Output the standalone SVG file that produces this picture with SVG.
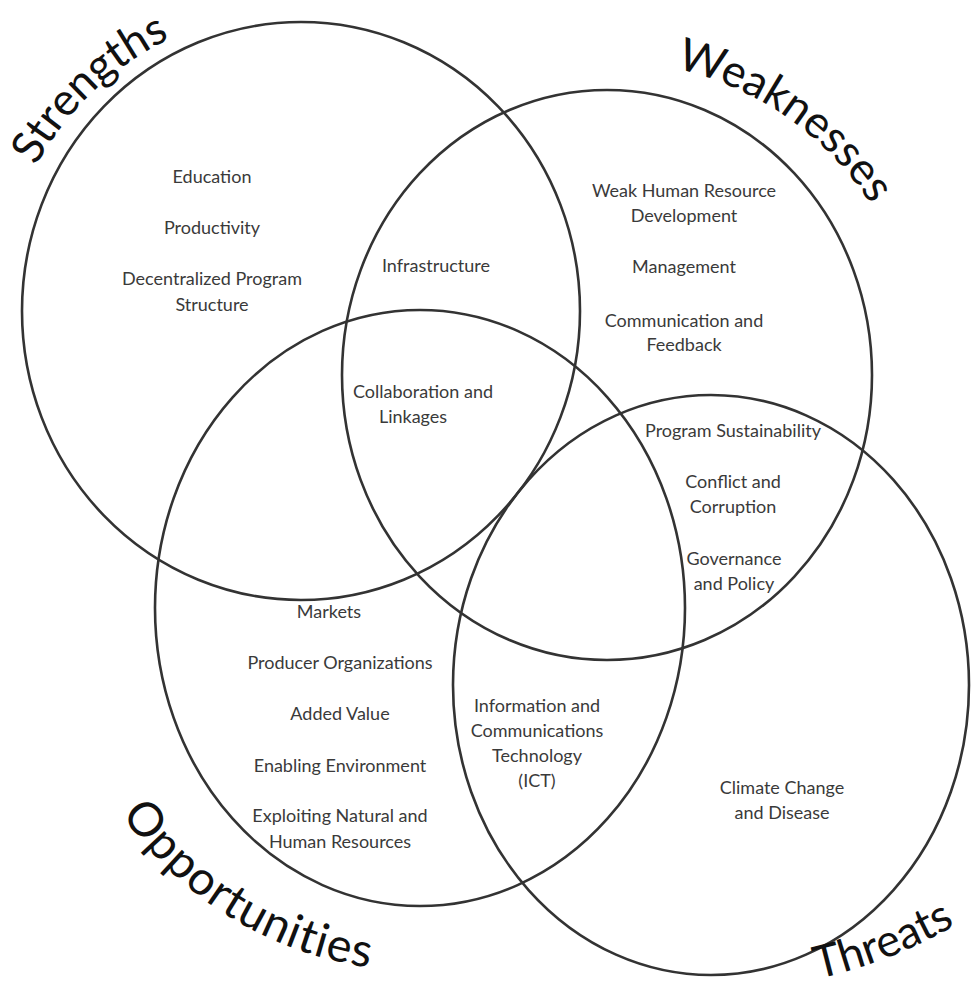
<svg xmlns="http://www.w3.org/2000/svg" xmlns:xlink="http://www.w3.org/1999/xlink" width="971" height="998" viewBox="0 0 971 998">
<style>
.c{fill:none;stroke:#333;stroke-width:2.6}
.t{font-family:Lato,"Liberation Sans",sans-serif;font-size:18px;fill:#3a3a3a;text-anchor:middle}
.h{font-family:Lato,"Liberation Sans",sans-serif;font-size:45px;fill:#111;text-anchor:middle}
</style>
<defs>
<path id="pS" d="M 7.3 381.5 A 302 302 0 0 1 386.8 21.4"/>
<path id="pW" d="M 473.8 90.6 A 314 314 0 0 1 919.9 401.8"/>
<path id="pO" d="M 57.1 597.9 A 363 363 0 0 0 592.6 927.3"/>
<path id="pT" d="M 553 965.4 A 491 491 0 0 0 1140.7 735"/>
</defs>
<rect width="971" height="998" fill="#fff"/>
<g id="connectors"></g>
<g id="strengths">
<ellipse class="c" cx="301" cy="311" rx="279" ry="289"/>
<text class="h"><textPath href="#pS" xlink:href="#pS" startOffset="50%">Strengths</textPath></text>
<text class="t" x="212" y="183">Education</text>
<text class="t" x="212" y="234">Productivity</text>
<text class="t" x="212" y="285">Decentralized Program</text>
<text class="t" x="212" y="311">Structure</text>
</g>
<g id="weaknesses">
<ellipse class="c" cx="607" cy="375" rx="265" ry="285"/>
<text class="h"><textPath href="#pW" xlink:href="#pW" startOffset="50%">Weaknesses</textPath></text>
<text class="t" x="684" y="197">Weak Human Resource</text>
<text class="t" x="684" y="222">Development</text>
<text class="t" x="684" y="273">Management</text>
<text class="t" x="684" y="327">Communication and</text>
<text class="t" x="684" y="351">Feedback</text>
</g>
<g id="opportunities">
<ellipse class="c" cx="420" cy="608" rx="265" ry="298"/>
<text class="h" style="font-size:47px;letter-spacing:1px"><textPath href="#pO" xlink:href="#pO" startOffset="50%">Opportunities</textPath></text>
<text class="t" x="329" y="618">Markets</text>
<text class="t" x="340" y="669">Producer Organizations</text>
<text class="t" x="340" y="720">Added Value</text>
<text class="t" x="340" y="772">Enabling Environment</text>
<text class="t" x="340" y="822">Exploiting Natural and</text>
<text class="t" x="340" y="848">Human Resources</text>
</g>
<g id="threats">
<ellipse class="c" cx="711" cy="685" rx="258" ry="290"/>
<text class="h"><textPath href="#pT" xlink:href="#pT" startOffset="50%">Threats</textPath></text>
<text class="t" x="782" y="794">Climate Change</text>
<text class="t" x="782" y="819">and Disease</text>
</g>
<g id="overlap-sw">
<text class="t" x="436" y="272">Infrastructure</text>
</g>
<g id="overlap-swo">
<text class="t" x="423" y="398">Collaboration and</text>
<text class="t" x="413" y="423">Linkages</text>
</g>
<g id="overlap-wt">
<text class="t" x="733" y="437">Program Sustainability</text>
<text class="t" x="733" y="488">Conflict and</text>
<text class="t" x="733" y="513">Corruption</text>
<text class="t" x="734" y="565">Governance</text>
<text class="t" x="734" y="590">and Policy</text>
</g>
<g id="overlap-ot">
<text class="t" x="537" y="712">Information and</text>
<text class="t" x="537" y="737">Communications</text>
<text class="t" x="537" y="762">Technology</text>
<text class="t" x="537" y="787">(ICT)</text>
</g>
</svg>
